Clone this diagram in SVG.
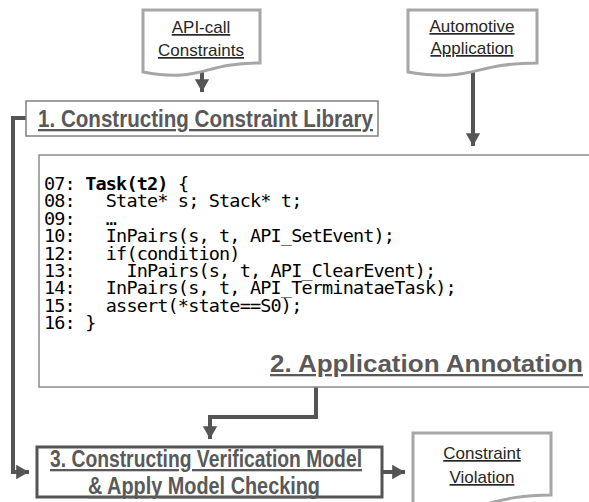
<svg xmlns="http://www.w3.org/2000/svg" width="589" height="502" viewBox="0 0 589 502">
<defs>
<marker id="ah" markerWidth="4" markerHeight="4" refX="3.2" refY="2" orient="auto" markerUnits="strokeWidth">
<path d="M0,0.2 L3.2,2 L0,3.8 Z" fill="#555"/>
</marker>
<style>
.doc{fill:#fff;stroke:#a6a6a6;stroke-width:3}
.doct{font-family:"Liberation Sans",Arial,sans-serif;font-size:17px;fill:#262626;text-anchor:middle;text-decoration:underline}
.head{font-family:"Liberation Sans",Arial,sans-serif;font-weight:bold;font-size:23px;fill:#595959;text-decoration:underline}
.code{font-family:"DejaVu Sans Mono","Liberation Mono",monospace;font-size:18.5px;letter-spacing:-0.84px;fill:#000;white-space:pre}
.conn{fill:none;stroke:#555;stroke-width:4}
</style>
</defs>
<rect width="589" height="502" fill="#fff"/>

<g id="connectors">
<path class="conn" d="M202,72 V92" marker-end="url(#ah)"/>
<path class="conn" d="M473,67 V146" marker-end="url(#ah)"/>
<path class="conn" d="M26,118 H13 V472 H29" marker-end="url(#ah)"/>
<path class="conn" d="M316,387 V417 H210 V439" marker-end="url(#ah)"/>
<path class="conn" d="M382,472 H405" marker-end="url(#ah)"/>
</g>

<g id="doc-api">
<path class="doc" d="M143,10 H260 V63 C201.5,63 201.5,83 143,72 Z"/>
<text class="doct" x="201" y="33">API-call</text>
<text class="doct" x="201" y="56">Constraints</text>
</g>

<g id="doc-auto">
<path class="doc" d="M408,10 H537 V63 C472.5,63 472.5,83 408,72 Z"/>
<text class="doct" x="472" y="32">Automotive</text>
<text class="doct" x="472" y="54">Application</text>
</g>

<g id="box1">
<rect x="26" y="101" width="352" height="35" fill="#fff" stroke="#808080" stroke-width="1.5"/>
<text class="head" x="38" y="127" textLength="335" lengthAdjust="spacingAndGlyphs">1. Constructing Constraint Library</text>
</g>

<g id="box2">
<rect x="39" y="155" width="570" height="232" fill="#fff" stroke="#8c8c8c" stroke-width="1.5"/>
<text class="code" x="44" y="190">07: <tspan font-weight="bold">Task(t2)</tspan> {</text>
<text class="code" x="44" y="207.4">08:   State* s; Stack* t;</text>
<text class="code" x="44" y="224.8">09:   …</text>
<text class="code" x="44" y="242.1">10:   InPairs(s, t, API_SetEvent);</text>
<text class="code" x="44" y="259.5">12:   if(condition)</text>
<text class="code" x="44" y="276.9">13:     InPairs(s, t, API_ClearEvent);</text>
<text class="code" x="44" y="294.3">14:   InPairs(s, t, API_TerminataeTask);</text>
<text class="code" x="44" y="311.6">15:   assert(*state==S0);</text>
<text class="code" x="44" y="329">16: }</text>
<text class="head" x="270" y="372" textLength="313" lengthAdjust="spacingAndGlyphs">2. Application Annotation</text>
</g>

<g id="box3">
<rect x="37" y="447" width="345" height="50" fill="#fff" stroke="#555" stroke-width="3"/>
<text class="head" x="50" y="467" textLength="312" lengthAdjust="spacingAndGlyphs">3. Constructing Verification Model</text>
<text class="head" x="88" y="494" textLength="232" lengthAdjust="spacingAndGlyphs">&amp; Apply Model Checking</text>
</g>

<g id="doc-violation">
<path class="doc" d="M413,433 H551 V495 C482,495 482,518 413,505 Z"/>
<text class="doct" x="482" y="459">Constraint</text>
<text class="doct" x="482" y="483">Violation</text>
</g>
</svg>
